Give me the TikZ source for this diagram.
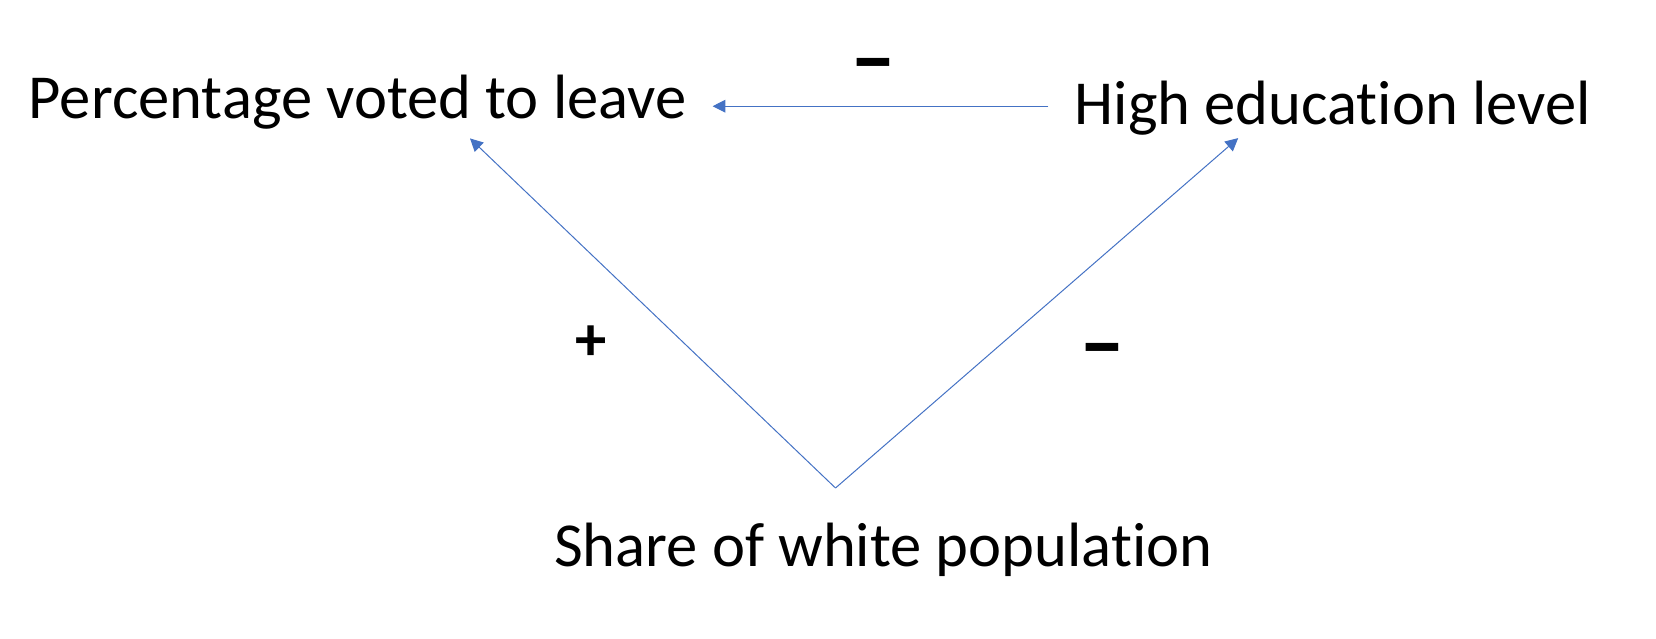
\documentclass[tikz,border=0pt]{standalone}
\usepackage{fontspec}
\setmainfont{Carlito}[Ligatures=NoCommon]
\usetikzlibrary{arrows.meta, positioning}
\definecolor{linkblue}{HTML}{4472C4}

\begin{document}
\begin{tikzpicture}[varnode/.style={font=\fontsize{31.3}{38}\selectfont, inner xsep=13pt, inner ysep=8pt, text height=19.8pt, text depth=2pt},
            sign/.style={font=\fontsize{31.3}{38}\selectfont\bfseries, text=black, inner sep=0pt, text height=17.5pt, text depth=0pt},
            negsign/.style={sign, font=\fontsize{46}{54}\selectfont\bfseries, text height=28.3pt},
            link/.style={color=linkblue, line width=0.5pt, -{Triangle[length=6.4pt,width=6.4pt]}}]
            \useasboundingbox (0,0) rectangle (828pt,-319pt);
            \node[varnode, anchor=base] (leave) at (178.75pt,-59pt) {Percentage voted to leave};
            \node[varnode] (educ) [base right=167.85pt of leave, yshift=-3pt] {High education level};
            \node[varnode, anchor=base] (share) at (441.75pt,-283pt) {Share of white population};
            \coordinate[above=11pt of share, xshift=-24pt] (v);
            
            \path[link] (educ.west) edge node[negsign, pos=0.52, above=8.6pt] {–} (educ.west -| leave.east);
            \path[link] (v) edge node[sign, pos=0.4155, left=38pt] {+} ([xshift=56.25pt]leave.south);
            \path[link] (v) edge node[negsign, pos=0.4089, right=39.5pt] {–} ([xshift=-47.25pt, yshift=3.15pt]educ.south);
        \end{tikzpicture}
\end{document}
